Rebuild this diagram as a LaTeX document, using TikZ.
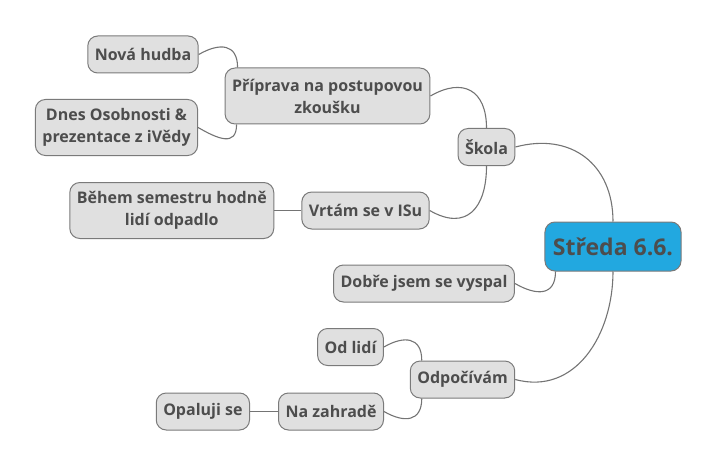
\documentclass[tikz,border=0pt]{standalone}
\usepackage{fontspec}
\setmainfont{Open Sans}
\usepackage{tikz}
\usetikzlibrary{positioning, calc}
\definecolor{boxfill}{HTML}{E0E0E0}
\definecolor{boxline}{HTML}{7A7A7A}
\definecolor{textgray}{HTML}{4D4D4D}
\definecolor{centralfill}{HTML}{22A8E0}
\definecolor{linkgray}{HTML}{747474}
\tikzset{
    topic/.style={draw=boxline, fill=boxfill, line width=1pt, rounded corners=10pt,
      text=textgray, font=\bfseries\fontsize{16}{22}\selectfont, align=center,
      inner xsep=7pt, minimum height=37pt},
    twoline/.style={minimum height=56pt},
    central/.style={topic, fill=centralfill, font=\bfseries\fontsize{23}{28}\selectfont,
      minimum height=49pt, inner xsep=8pt},
    link/.style={draw=linkgray, line width=1.1pt},
}
\begin{document}
\begin{tikzpicture}[x=1pt, y=1pt]
    \useasboundingbox (0,0) rectangle (720,-468);

    \node[central] (streda) at (613,-246.5) {Středa 6.6.};

    \node[topic] (skola) at (486.5,-147) {Škola};
    \node[topic, twoline] (priprava) at (327.5,-96) {Příprava na postupovou\\zkoušku};
    \node[topic] (nova) at (143,-54.5) {Nová hudba};
    \node[topic, twoline] (dnes) at (116.5,-127.5) {Dnes Osobnosti \&\\prezentace z iVědy};
    \node[topic] (vrtam) at (365.5,-210.5) {Vrtám se v ISu};
    \node[topic, twoline, left=27pt of vrtam] (behem) {Během semestru hodně\\lidí odpadlo};

    \node[topic] (dobre) at (424,-283.5) {Dobře jsem se vyspal};

    \node[topic] (odp) at (462.5,-379.5) {Odpočívám};
    \node[topic] (odlidi) at (350.5,-347) {Od lidí};
    \node[topic] (zahrada) at (331,-411.5) {Na zahradě};
    \node[topic, left=28pt of zahrada] (opaluji) {Opaluji se};

    % from the centre
    \draw[link] (skola.east) to[out=15, in=90, looseness=1.2] (streda.north);
    \draw[link] (dobre.east) to[out=-30, in=-90, looseness=1.5] ([xshift=11pt]streda.south west);
    \draw[link] (odp.east) to[out=-15, in=-90, looseness=1.1] (streda.south);

    % skola
    \draw[link] (priprava.east) to[out=30, in=90, looseness=1.5] (skola.north);
    \draw[link] (vrtam.east) to[out=-30, in=-90, looseness=1.5] (skola.south);
    \draw[link] (nova.east) to[out=30, in=90, looseness=1.5] ([xshift=13pt]priprava.north west);
    \draw[link] (dnes.east) to[out=-30, in=-90, looseness=1.5] ([xshift=12pt]priprava.south west);
    \draw[link] (vrtam.west) -- (behem.east);

    % odpocivam
    \draw[link] (odlidi.east) to[out=30, in=90, looseness=1.5] ([xshift=12pt]odp.north west);
    \draw[link] (zahrada.east) to[out=-30, in=-90, looseness=1.5] ([xshift=12pt]odp.south west);
    \draw[link] (zahrada.west) -- (opaluji.east);
\end{tikzpicture}
\end{document}
